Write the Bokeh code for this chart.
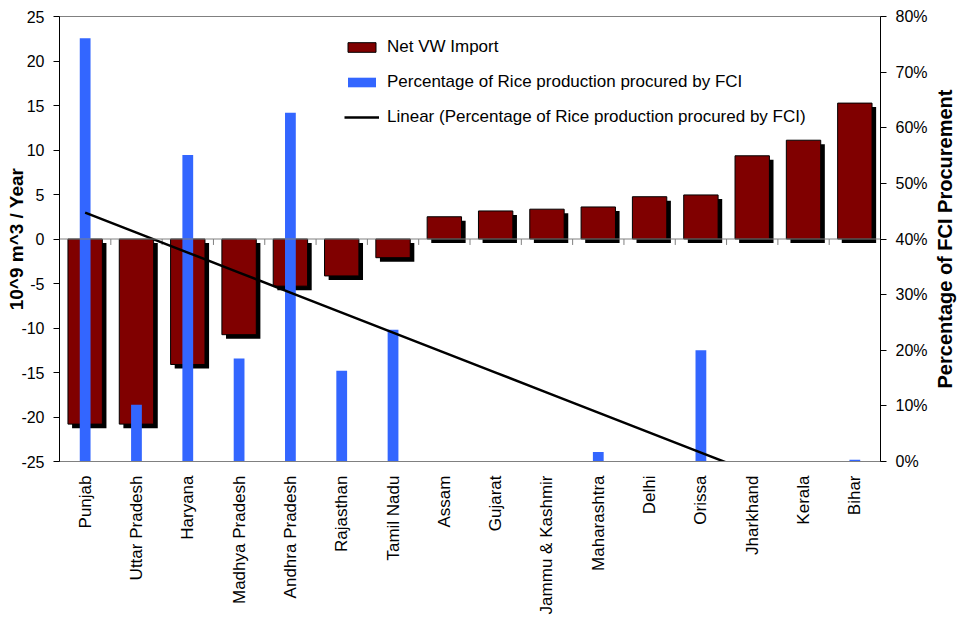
import math
import numpy as np
from bokeh.plotting import figure
from bokeh.layouts import row
from bokeh.models import (ColumnDataSource, FactorRange, Range1d, LinearAxis, FixedTicker,
                          PrintfTickFormatter, Span, Legend, LegendItem)
from bokeh.core.properties import value
from bokeh.transform import dodge
from bokeh.embed import file_html
from bokeh.resources import INLINE

# ---------------- data ----------------
states = ["Punjab", "Uttar Pradesh", "Haryana", "Madhya Pradesh", "Andhra Pradesh",
          "Rajasthan", "Tamil Nadu", "Assam", "Gujarat", "Jammu & Kashmir",
          "Maharashtra", "Delhi", "Orissa", "Jharkhand", "Kerala", "Bihar"]
net_vw_import = [-20.8, -20.8, -14.1, -10.75, -5.3, -4.15, -2.1, 2.5, 3.15, 3.35,
                 3.6, 4.75, 4.95, 9.35, 11.1, 15.27]
fci_pct = [76.1, 10.2, 55.1, 18.5, 62.7, 16.3, 23.7, 0, 0, 0,
           1.7, 0, 20.0, 0, 0, 0.3]
left_ticks = [-25, -20, -15, -10, -5, 0, 5, 10, 15, 20, 25]
right_ticks = [0, 10, 20, 30, 40, 50, 60, 70, 80]
left_title = "10^9 m^3 / Year"
right_title = "Percentage of FCI Procurement"

# ---------------- styles ----------------
FONT = "Liberation Sans"
RED = "#800000"
BLUE = "#3366FF"
GREY = "#808080"
SHADOW_DY = 0.45   # shadow offset (left-axis units)
SHADOW_DX = 0.08   # shadow offset (category units)
TICK_LEN = 0.67    # zero-line tick length (left-axis units)
H = 624
B_TOP, B_BOTTOM = 16, 163

idx = np.arange(1, len(states) + 1)
coef = np.polyfit(idx, np.array(fci_pct, dtype=float), 1)
trend = np.polyval(coef, idx)

vw = np.array(net_vw_import, dtype=float)
source = ColumnDataSource(dict(
    state=states,
    vw=vw,
    pct=fci_pct,
    sh_top=vw - SHADOW_DY,
    sh_bot=np.zeros(len(states)) - SHADOW_DY,
))

p = figure(width=930, height=H,
           x_range=FactorRange(factors=states),
           y_range=Range1d(-25, 25),
           output_backend="svg", toolbar_location=None,
           min_border_left=59, min_border_right=50,
           min_border_top=B_TOP, min_border_bottom=B_BOTTOM)
p.extra_y_ranges = {"pct": Range1d(0, 80)}
p.xgrid.visible = False
p.ygrid.visible = False
p.outline_line_color = GREY
p.background_fill_color = "white"
p.border_fill_color = "white"

# shadows
p.vbar(x=dodge("state", SHADOW_DX, range=p.x_range), width=0.67,
       top="sh_top", bottom="sh_bot", source=source,
       fill_color="black", line_color=None)
# net VW import bars
red = p.vbar(x="state", width=0.67, top="vw", bottom=0, source=source,
             fill_color=RED, line_color="black", line_width=1)
# zero line with category ticks
p.add_layout(Span(location=0, dimension="width", line_color=GREY, line_width=1))
p.segment(x0=dodge("state", 0.5, range=p.x_range), y0=0,
          x1=dodge("state", 0.5, range=p.x_range), y1=-TICK_LEN,
          source=source, line_color=GREY, line_width=1)
# FCI percentage bars
blue = p.vbar(x="state", width=0.21, top="pct", bottom=0, source=source,
              y_range_name="pct", fill_color=BLUE, line_color=None)
# linear trend
trend_r = p.line(x=states, y=trend, y_range_name="pct",
                 line_color="black", line_width=2.5)

# ---------------- axes ----------------
ya = p.yaxis[0]
ya.ticker = FixedTicker(ticks=left_ticks)
ya.formatter = PrintfTickFormatter(format="%d")
ya.axis_line_color = "black"
ya.major_tick_out = 6
ya.major_tick_in = 0
ya.minor_tick_out = 0
ya.minor_tick_in = 0
ya.major_label_standoff = 9
ya.major_label_text_font = FONT
ya.major_label_text_font_size = "16px"
ya.major_label_text_color = "black"
ya.axis_label = left_title
ya.axis_label_text_font = FONT
ya.axis_label_text_font_size = "19px"
ya.axis_label_text_font_style = "bold"
ya.axis_label_text_color = "black"
ya.axis_label_standoff = -9

ra = LinearAxis(y_range_name="pct", ticker=FixedTicker(ticks=right_ticks),
                formatter=PrintfTickFormatter(format="%d%%"))
ra.axis_line_color = "black"
ra.major_tick_out = 6
ra.major_tick_in = 0
ra.minor_tick_out = 0
ra.minor_tick_in = 0
ra.major_label_standoff = 9
ra.major_label_text_font = FONT
ra.major_label_text_font_size = "16px"
ra.major_label_text_color = "black"
p.add_layout(ra, "right")

xa = p.xaxis[0]
xa.axis_line_color = GREY
xa.major_tick_out = 0
xa.major_tick_in = 0
xa.major_label_orientation = math.pi / 2
xa.major_label_standoff = 14
xa.major_label_text_font = FONT
xa.major_label_text_font_size = "17px"
xa.major_label_text_color = "black"

# ---------------- legend ----------------
legend = Legend(items=[
    LegendItem(label="Net VW Import", renderers=[red]),
    LegendItem(label="Percentage of Rice production procured by FCI", renderers=[blue]),
    LegendItem(label="Linear (Percentage of Rice production procured by FCI)", renderers=[trend_r]),
], location=(285, 334))
legend.border_line_color = None
legend.background_fill_alpha = 0
legend.padding = 0
legend.margin = 0
legend.spacing = 15
legend.label_height = 20
legend.glyph_height = 12
legend.glyph_width = 35
legend.label_standoff = 8
legend.label_text_font = FONT
legend.label_text_font_size = "17px"
legend.label_text_color = "black"
p.add_layout(legend)

# ---------------- right axis title (separate narrow panel, same frame height) ----------------
p2 = figure(width=27, height=H, x_range=Range1d(0, 1), y_range=Range1d(0, 1),
            x_axis_type=None, y_axis_type=None,
            output_backend="svg", toolbar_location=None,
            min_border_left=0, min_border_right=0,
            min_border_top=B_TOP, min_border_bottom=B_BOTTOM)
p2.outline_line_color = None
p2.background_fill_color = "white"
p2.border_fill_color = "white"
p2.text(x=[0.55], y=[0.5], text=[right_title], angle=math.pi / 2,
        text_align="center", text_baseline="middle",
        text_font=value(FONT), text_font_size=value("20px"),
        text_font_style="bold", text_color="black")

layout = row(p, p2)
open("out.html", "w").write(file_html(layout, INLINE))
